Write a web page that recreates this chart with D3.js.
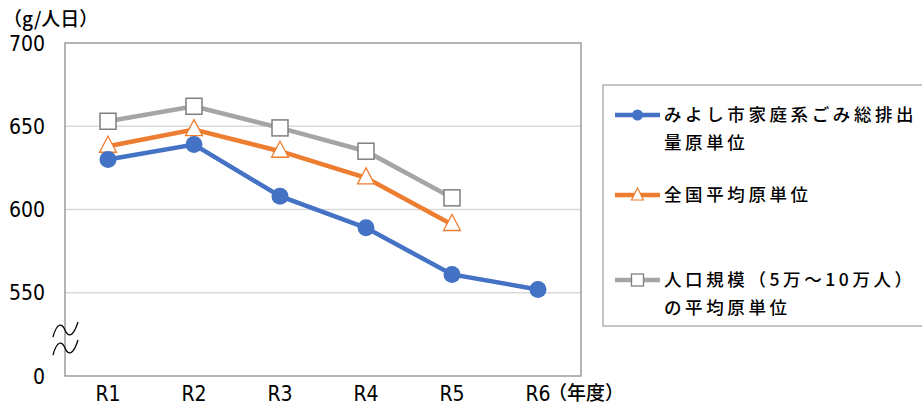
<!DOCTYPE html>
<html>
<head>
<meta charset="utf-8">
<script src="https://cdn.jsdelivr.net/npm/d3@7"></script>
<style>
  body { margin: 0; background: #fff; }
  text { font-family: "Noto Sans CJK JP", sans-serif; fill: #000; font-weight: 500; }
  .num { font-family: "Liberation Sans Narrow", "DejaVu Sans Condensed", "Noto Sans CJK JP", sans-serif; font-weight: normal; }
</style>
</head>
<body>
<div class="chart"></div>
<script>
// data
var years = ["R1", "R2", "R3", "R4", "R5", "R6"];
var miyoshi = [630, 639, 608, 589, 561, 552];
var national = [638, 648, 635, 619, 591];
var popScale = [653, 662, 649, 635, 607];
var yTicks = [550, 600, 650, 700];
var seriesNames = ["みよし市家庭系ごみ総排出\n量原単位", "全国平均原単位", "人口規模（5万～10万人）\nの平均原単位"];

var width = 922, height = 407;
var plot = {left: 65, right: 581, top: 43, bottom: 376};

var svg = d3.select(".chart").append("svg")
    .attr("width", width)
    .attr("height", height);

// scales - the bottom of the axis stands for 0 but is drawn as 500 (axis break)
var x = d3.scaleBand().domain(years).range([plot.left, plot.right]);
var y = d3.scaleLinear().domain([500, 700]).range([plot.bottom, plot.top]);
var cx = function(d) { return x(d) + x.bandwidth() / 2; };

// gridlines
svg.append("g")
  .selectAll("line")
  .data(yTicks.slice(0, 3))
  .enter().append("line")
    .attr("x1", plot.left).attr("x2", plot.right)
    .attr("y1", function(d) { return y(d); })
    .attr("y2", function(d) { return y(d); })
    .attr("stroke", "#d9d9d9").attr("stroke-width", 1.5);

// plot frame
svg.append("rect")
  .attr("x", plot.left).attr("y", plot.top)
  .attr("width", plot.right - plot.left).attr("height", plot.bottom - plot.top)
  .attr("fill", "none").attr("stroke", "#8c8c8c").attr("stroke-width", 1.3);

// y labels
svg.append("g")
  .selectAll("text")
  .data(yTicks)
  .enter().append("text")
    .attr("class", "num")
    .attr("x", 45).attr("y", function(d) { return y(d); })
    .attr("dy", "0.36em")
    .attr("text-anchor", "end")
    .style("font-size", "21px")
    .text(function(d) { return d; });

svg.append("text")
  .attr("class", "num")
  .attr("x", 45).attr("y", y(500))
  .attr("dy", "0.36em").attr("text-anchor", "end")
  .style("font-size", "21px")
  .text("0");

svg.append("text")
  .attr("x", 3).attr("y", 19)
  .attr("dy", "0.36em")
  .style("font-size", "19px")
  .text("（g/人日）");

// axis break marks
var wave = function(y0) {
  return "M53," + (y0 + 7) + " C57," + (y0 - 8) + " 62," + (y0 - 7) + " 65," + y0 +
         " S73," + (y0 + 8) + " 78," + (y0 - 8);
};
[330, 348].forEach(function(y0) {
  svg.append("path").attr("d", wave(y0))
    .attr("fill", "none").attr("stroke", "#000").attr("stroke-width", 1.3);
});

// x labels
svg.append("g")
  .selectAll("text")
  .data(years)
  .enter().append("text")
    .attr("class", "num")
    .attr("x", cx).attr("y", 393)
    .attr("dy", "0.36em").attr("text-anchor", "middle")
    .style("font-size", "21px")
    .text(function(d) { return d; });

svg.append("text")
  .attr("x", cx("R6") + 10).attr("y", 393)
  .attr("dy", "0.36em")
  .style("font-size", "19px")
  .text("（年度）");

// lines
var line = d3.line()
  .x(function(d, i) { return cx(years[i]); })
  .y(function(d) { return y(d); });

var series = [
  {values: popScale, color: "#a5a5a5", marker: "square"},
  {values: national, color: "#ed7d31", marker: "triangle"},
  {values: miyoshi, color: "#4472c4", marker: "circle"}
];

function drawMarker(g, type, color, px, py) {
  if (type === "circle") {
    g.append("circle").attr("cx", px).attr("cy", py).attr("r", 8.5)
      .attr("fill", color);
  } else if (type === "triangle") {
    g.append("path")
      .attr("d", "M" + px + "," + (py - 10) + " L" + (px + 8.5) + "," + (py + 6) + " L" + (px - 8.5) + "," + (py + 6) + "Z")
      .attr("fill", "#fff").attr("stroke", color).attr("stroke-width", 1.3);
  } else {
    g.append("rect").attr("x", px - 8).attr("y", py - 8)
      .attr("width", 16).attr("height", 16)
      .attr("fill", "#fff").attr("stroke", "#7f7f7f").attr("stroke-width", 1.5);
  }
}

series.forEach(function(s) {
  var g = svg.append("g");
  g.append("path")
    .datum(s.values)
    .attr("d", line)
    .attr("fill", "none")
    .attr("stroke", s.color)
    .attr("stroke-width", 4.5);
  s.values.forEach(function(v, i) {
    drawMarker(g, s.marker, s.color, cx(years[i]), y(v));
  });
});

// legend
svg.append("rect")
  .attr("x", 603).attr("y", 85)
  .attr("width", 330).attr("height", 241)
  .attr("fill", "#fff").attr("stroke", "#a6a6a6").attr("stroke-width", 1.3);

var legendRows = [
  {y: 115, s: series[2], name: seriesNames[0]},
  {y: 195, s: series[1], name: seriesNames[1]},
  {y: 280, s: series[0], name: seriesNames[2]}
];
legendRows.forEach(function(r) {
  var g = svg.append("g");
  g.append("line")
    .attr("x1", 615).attr("x2", 660)
    .attr("y1", r.y).attr("y2", r.y)
    .attr("stroke", r.s.color).attr("stroke-width", 4.5);
  if (r.s.marker === "circle") {
    g.append("circle").attr("cx", 637.5).attr("cy", r.y).attr("r", 5.5).attr("fill", r.s.color);
  } else if (r.s.marker === "triangle") {
    g.append("path")
      .attr("d", "M637.5," + (r.y - 7) + " L643.5," + (r.y + 5) + " L631.5," + (r.y + 5) + "Z")
      .attr("fill", "#fff").attr("stroke", r.s.color).attr("stroke-width", 1.2);
  } else {
    g.append("rect").attr("x", 631.5).attr("y", r.y - 6)
      .attr("width", 12).attr("height", 12)
      .attr("fill", "#fff").attr("stroke", "#7f7f7f").attr("stroke-width", 1.3);
  }
  r.name.split("\n").forEach(function(t, j) {
    g.append("text")
      .attr("x", 664).attr("y", r.y + j * 28)
      .attr("dy", "0.36em")
      .style("font-size", "17.5px")
      .style("letter-spacing", "3.6px")
      .text(t);
  });
});
</script>
</body>
</html>
